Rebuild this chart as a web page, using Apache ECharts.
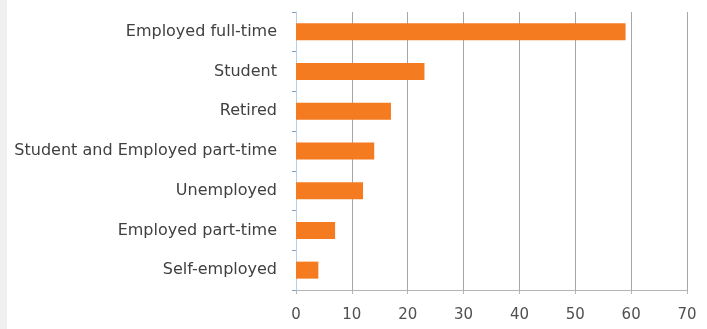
<!DOCTYPE html>
<html>
<head>
<meta charset="utf-8">
<script src="https://cdn.jsdelivr.net/npm/echarts@6/dist/echarts.min.js"></script>
<style>
  html, body { margin: 0; padding: 0; background: #ffffff; }
  #frame { position: absolute; left: 0; top: 0; width: 7px; height: 329px; background: #f0f0f0; }
  #chart { width: 707px; height: 329px; }
</style>
</head>
<body>
<div id="chart"></div>
<div id="frame"></div>
<script>
// Employment status, listed from bottom to top as the category axis draws them
const categories = [
  'Self-employed',
  'Employed part-time',
  'Unemployed',
  'Student and Employed part-time',
  'Retired',
  'Student',
  'Employed full-time'
];
const values = [4, 7, 12, 14, 17, 23, 59];
const xTicks = { min: 0, max: 70, interval: 10 };

const chart = echarts.init(document.getElementById('chart'));
chart.setOption({
  animation: false,
  backgroundColor: '#ffffff',
  grid: { left: 296, right: 20, top: 12, bottom: 39, containLabel: false },
  xAxis: {
    type: 'value',
    min: xTicks.min,
    max: xTicks.max,
    interval: xTicks.interval,
    axisLine: { show: true, lineStyle: { color: '#b4b4b4', width: 1 } },
    axisTick: { show: true, length: 4, lineStyle: { color: '#b4b4b4' } },
    splitLine: { show: true, lineStyle: { color: '#a6a6a6', width: 1 } },
    axisLabel: { color: '#505050', fontFamily: 'DejaVu Sans', fontSize: 15, margin: 18 }
  },
  yAxis: {
    type: 'category',
    data: categories,
    axisLine: { show: true, lineStyle: { color: '#b9cde3', width: 1 } },
    axisTick: { show: true, length: 4, lineStyle: { color: '#7f9fc8' } },
    axisLabel: { color: '#404040', fontFamily: 'DejaVu Sans', fontSize: 16, margin: 19 }
  },
  series: [{
    type: 'bar',
    data: values,
    barWidth: 17,
    itemStyle: { color: '#f47b20' }
  }]
});
</script>
</body>
</html>
